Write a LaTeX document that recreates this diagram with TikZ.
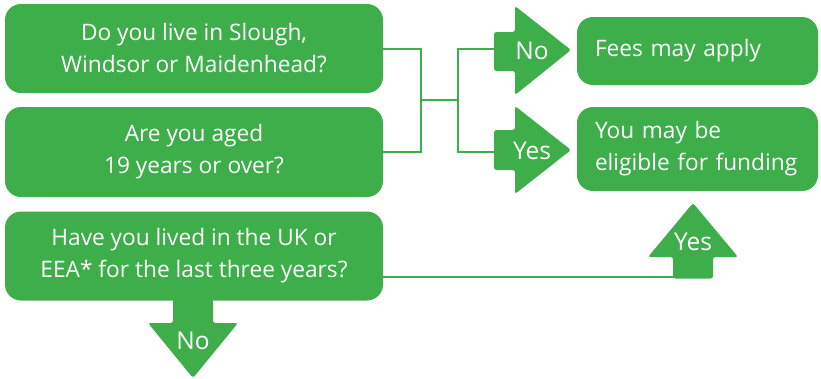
\documentclass[tikz,border=0pt]{standalone}
\usepackage{fontspec}
\setmainfont{Open Sans}
\definecolor{fgreen}{RGB}{61,174,74}
\begin{document}
\begin{tikzpicture}[x=1pt,y=-1pt,
  qbox/.style={fill=fgreen, rounded corners=16pt, text=white, align=center,
    font=\fontsize{22.7}{32}\selectfont, inner sep=0pt},
  abox/.style={fill=fgreen, rounded corners=16pt, text=white, align=left,
    font=\fontsize{22.7}{32}\selectfont, inner sep=0pt},
  conn/.style={draw=fgreen, line width=2pt},
  arr/.style={fill=fgreen, rounded corners=2.5pt},
  alabel/.style={text=white, font=\fontsize{24.5}{28}\selectfont, inner sep=0pt}]
\useasboundingbox (0,0) rectangle (821,378);
% question boxes
\node[qbox, minimum width=378pt, minimum height=89pt] (q1) at (194,48.5) {Do you live in Slough,\\Windsor or Maidenhead?};
\node[qbox, minimum width=378pt, minimum height=90pt] (q2) at (194,152) {Are you aged\\19 years or over?};
\node[qbox, minimum width=378pt, minimum height=89pt] (q3) at (194,256) {Have you lived in the UK or\\EEA* for the last three years?};
% answer boxes
\node[abox, minimum width=241pt, minimum height=68pt, text width=205pt] (fees) at (697.5,51) {Fees may apply};
\node[abox, minimum width=241pt, minimum height=84pt, text width=205pt] (elig) at (697.5,149) {You may be\\eligible for funding};
% connector coordinates
\coordinate (j1) at (421,49);
\coordinate (j2) at (421,152);
\coordinate (jm) at (421,100);
\coordinate (k1) at (458,49);
\coordinate (k2) at (458,152);
\coordinate (km) at (458,100);
\coordinate (noS) at (496,49);
\coordinate (yesS) at (496,152);
\coordinate (upS) at (675,277);
\draw[conn] (q1.east |- j1) -- (j1) -- (j2) -- (q2.east |- j2);
\draw[conn] (jm) -- (km);
\draw[conn] (noS) -- (k1) -- (k2) -- (yesS);
\draw[conn] (q3.east |- upS) -- (upS);
% No arrow (right)
\fill[arr] (494,32) -- (515,32) -- (515,6) -- (571,50) -- (515,95) -- (515,71) -- (494,71) -- cycle;
\node[alabel] (noR) at (532,51) {No};
% Yes arrow (right)
\fill[arr] (494,130) -- (515,130) -- (515,106) -- (571,150) -- (515,194) -- (515,170) -- (494,170) -- cycle;
\node[alabel] (yesR) at (532,151) {Yes};
% Yes arrow (up)
\fill[arr] (673,278.5) -- (673,257) -- (648,257) -- (693,203) -- (738,257) -- (713,257) -- (713,278.5) -- cycle;
\node[alabel] (yesU) at (693,242) {Yes};
% No arrow (down)
\fill[arr] (173,299) -- (173,323) -- (148,323) -- (193,378) -- (238,323) -- (213,323) -- (213,299) -- cycle;
\node[alabel] (noD) at (193,341) {No};
\end{tikzpicture}
\end{document}
